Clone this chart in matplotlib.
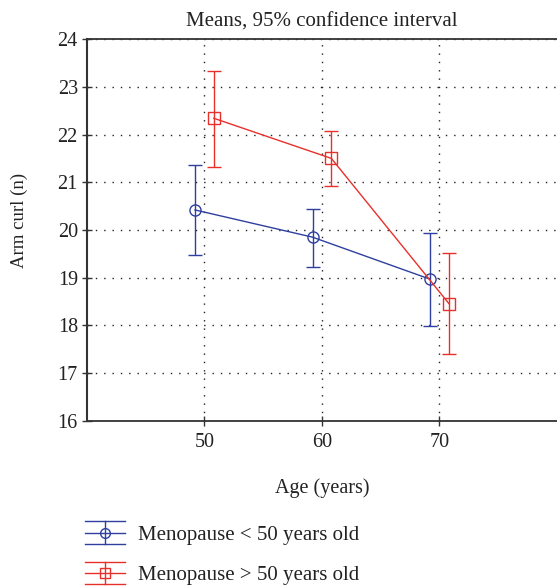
import matplotlib
matplotlib.use("Agg")
import matplotlib.pyplot as plt
from matplotlib.lines import Line2D
from matplotlib.legend_handler import HandlerBase

plt.rcParams['font.family'] = ['Liberation Serif', 'DejaVu Serif']
plt.rcParams['font.size'] = 14.5
plt.rcParams['text.color'] = '#222222'
plt.rcParams['axes.labelcolor'] = '#222222'
plt.rcParams['xtick.labelcolor'] = '#222222'
plt.rcParams['ytick.labelcolor'] = '#222222'

# data
ages = [50, 60, 70]
labels = ['Menopause < 50 years old', 'Menopause > 50 years old']
mean_lt50 = [20.42, 19.85, 18.97]
low_lt50 = [19.48, 19.23, 17.98]
high_lt50 = [21.36, 20.44, 19.94]
mean_gt50 = [22.34, 21.50, 18.46]
low_gt50 = [21.33, 20.92, 17.40]
high_gt50 = [23.34, 22.08, 19.52]

blue = '#2e3f9e'
red = '#e8302a'


class ErrbarHandler(HandlerBase):
    # horizontal line + marker + vertical bar with wide caps, like the reference legend
    def create_artists(self, legend, orig, xd, yd, width, height, fontsize, trans):
        color, marker = orig
        cy = height / 2 - yd
        hh = height * 0.6
        x0, x1 = -xd, -xd + width
        xm = (x0 + x1) / 2
        arts = []
        for y in (cy - hh, cy, cy + hh):
            arts.append(Line2D([x0, x1], [y, y], color=color, lw=1))
        arts.append(Line2D([xm, xm], [cy - hh, cy + hh], color=color, lw=1))
        arts.append(Line2D([xm], [cy], marker=marker, ms=7, mfc='none', mec=color, mew=1))
        for a in arts:
            a.set_transform(trans)
        return arts


fig = plt.figure(figsize=(5.57, 5.86), dpi=100)
ax = fig.add_axes([0.156, 0.2816, 0.844, 0.6518])

off = 0.8
x1 = [a - off for a in ages]
x2 = [a + off for a in ages]
err1 = [[m - l for m, l in zip(mean_lt50, low_lt50)], [h - m for m, h in zip(mean_lt50, high_lt50)]]
err2 = [[m - l for m, l in zip(mean_gt50, low_gt50)], [h - m for m, h in zip(mean_gt50, high_gt50)]]

ax.errorbar(x1, mean_lt50, yerr=err1, color=blue, lw=1, marker='o', ms=8,
            mfc='none', mec=blue, capsize=4.7, elinewidth=1, capthick=1, zorder=3)
ax.errorbar(x2, mean_gt50, yerr=err2, color=red, lw=1, marker='s', ms=8,
            mfc='none', mec=red, capsize=4.7, elinewidth=1, capthick=1, zorder=3)

ax.set_xlim(40, 80)
ax.set_ylim(16, 24)
ax.set_xticks(ages)
ax.set_yticks(range(16, 25))
ax.grid(True, color='#222222', linestyle=(0, (1, 5)), lw=1)
ax.tick_params(direction='inout', length=7, width=1, color='#333333', labelsize=14.5)
ax.tick_params(axis='x', pad=5)
ax.tick_params(axis='y', pad=3)

ax.spines['right'].set_visible(False)
for s in ['left', 'bottom', 'top']:
    ax.spines[s].set_color('#333333')
ax.spines['left'].set_linewidth(1.5)
ax.spines['bottom'].set_linewidth(1.3)
ax.spines['top'].set_linewidth(1.3)

ax.set_title('Means, 95% confidence interval', fontsize=15, pad=9)
ax.set_xlabel('Age (years)', labelpad=19)
ax.set_ylabel('Arm curl (n)', fontsize=13.5)
ax.yaxis.set_label_coords(-0.126, 0.526)

fig.legend([(blue, 'o'), (red, 's')], labels, handler_map={tuple: ErrbarHandler()},
           loc='upper left', bbox_to_anchor=(0.126, 0.132), frameon=False, fontsize=15,
           handlelength=1.92, handleheight=1.0, labelspacing=0.9, handletextpad=0.62,
           borderpad=0.2)

fig.savefig('out.png', dpi=100)
